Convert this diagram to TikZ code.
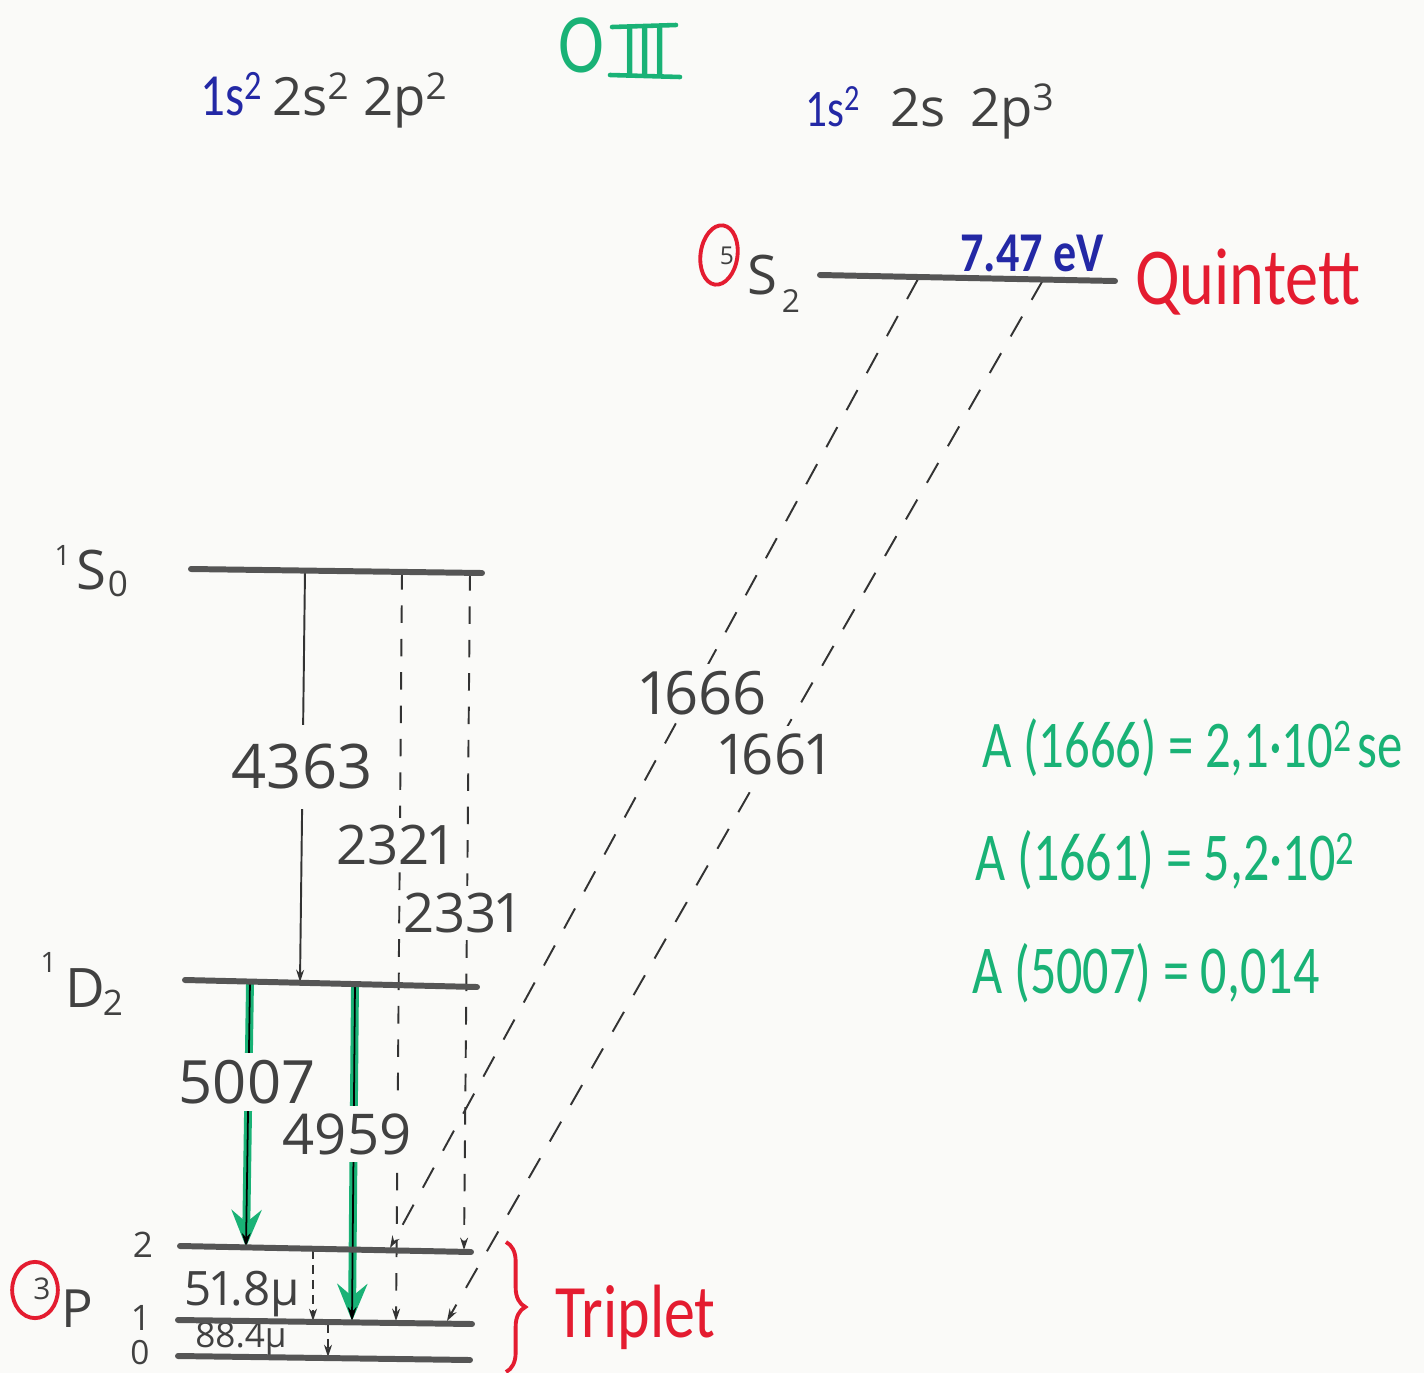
\documentclass[tikz,border=0pt]{standalone}
\usepackage{fontspec}
\setmainfont{Open Sans}[Numbers=Proportional]
\newfontfamily\hand{Carlito}[FakeStretch=0.82]
\newfontfamily\handn{Carlito}[FakeStretch=0.76]
\usetikzlibrary{arrows.meta,decorations.pathreplacing,shapes.geometric}
\definecolor{bg}{RGB}{250,250,248}
\definecolor{ink}{RGB}{65,65,65}
\definecolor{lvl}{RGB}{85,85,85}
\definecolor{hgreen}{RGB}{25,178,118}
\definecolor{hred}{RGB}{228,28,48}
\definecolor{hblue}{RGB}{35,40,165}
\newcommand\fsz[1]{\fontsize{#1pt}{#1pt}\selectfont}
\begin{document}
\begin{tikzpicture}[x=0.02cm,y=-0.02cm,
  level/.style={draw=lvl,line width=3.4pt,line cap=round},
  lab/.style={text=ink,inner sep=1pt},
  wl/.style={lab,fill=bg,inner xsep=1pt,inner ysep=4pt},
  dline/.style={draw=black!80,line width=1.1pt,dash pattern=on 10pt off 9pt},
  diag/.style={draw=black!80,line width=1.1pt,dash pattern=on 13pt off 11pt},
  sdash/.style={draw=black!80,line width=1.1pt,dash pattern=on 5pt off 3.5pt},
  dtip/.style={-{Stealth[length=7pt,width=4.5pt]}},
  gline/.style={draw=hgreen,line width=4.5pt,-{Stealth[length=21pt,width=17pt,inset=7pt]}},
  kline/.style={draw=black,line width=1pt,-{Stealth[length=8pt,width=5pt]}},
  redline/.style={draw=hred,line width=2.2pt},
  hg/.style={text=hgreen,inner sep=0pt,anchor=base west}
]
\fill[bg] (0,0) rectangle (1424,1373);
\useasboundingbox (0,0) rectangle (1424,1373);
\clip (0,0) rectangle (1424,1373);

% level end points
\coordinate (q1) at (820,275); \coordinate (q2) at (1115,281);
\coordinate (s1) at (191,569); \coordinate (s2) at (482,573);
\coordinate (d1) at (185,980); \coordinate (d2) at (477,987);
\coordinate (p21) at (180,1246); \coordinate (p22) at (471,1252);
\coordinate (p11) at (178,1320); \coordinate (p12) at (472,1324);
\coordinate (p01) at (178,1356); \coordinate (p02) at (470,1360);

% transition end points
\coordinate (a4363) at (305,571); \coordinate (b4363) at (300,982);
\coordinate (a2321) at (402,572); \coordinate (b2321) at (396,1321);
\coordinate (a2331) at (470,573); \coordinate (b2331) at (464,1250);
\coordinate (a1666) at (918,279); \coordinate (b1666) at (390,1248);
\coordinate (a1661) at (1043,280); \coordinate (b1661) at (447,1321);
\coordinate (a518) at (313,1250); \coordinate (b518) at (313,1321);
\coordinate (a884) at (328,1324); \coordinate (b884) at (328,1357);
\coordinate (a5007) at (250,982); \coordinate (b5007) at (246,1247);
\coordinate (a4959) at (355,984); \coordinate (b4959) at (352,1321);

% transitions
\draw[draw=black!80,line width=1.1pt,dtip] (a4363) -- (b4363);
\draw[dline,dtip] (a2321) -- (b2321);
\draw[dline,dtip] (a2331) -- (b2331);
\draw[diag,dtip] (a1666) -- (b1666);
\draw[diag,dtip] (a1661) -- (b1661);
\draw[sdash,dtip] (a518) -- (b518);
\draw[sdash,dtip] (a884) -- (b884);
\draw[gline] (a5007) -- (b5007);
\draw[kline] (a5007) -- (b5007);
\draw[gline] (a4959) -- (b4959);
\draw[kline] (a4959) -- (b4959);

% wavelength labels
\node[wl,inner ysep=11pt] (l4363) at (302,767) {\fsz{35}4363};
\node[wl] (l2321) at (394,845) {\fsz{31}2321};
\node[wl] (l2331) at (461,913) {\fsz{31}2331};
\node[wl] (l5007) at (247,1082) {\fsz{34}5007};
\node[wl] (l4959) at (347,1134) {\fsz{32}4959};
\node[wl] (l1666) at (704,693) {\fsz{34}1666};
\node[wl] (l1661) at (774,754) {\fsz{32}1661};
\node[lab] (l518) at (242,1294) {\fsz{27}51.8μ};
\node[lab] (l884) at (241,1339) {\fsz{20}88.4μ};

% levels
\draw[level] (q1) -- (q2);
\draw[level] (s1) -- (s2);
\draw[level] (d1) -- (d2);
\draw[level] (p21) -- (p22);
\draw[level] (p11) -- (p12);
\draw[level] (p01) -- (p02);

% term symbols
\node[lab] (s0one) at (62,555) {\fsz{16}1};
\node[lab] (s0S) at (91,570) {\fsz{31}S};
\node[lab] (s0zero) at (118,584) {\fsz{20}0};
\node[lab] (d2one) at (48,962) {\fsz{16}1};
\node[lab] (d2D) at (85,988) {\fsz{31}D};
\node[lab] (d2two) at (113,1003) {\fsz{20}2};
\node[lab] (q5) at (727,256) {\fsz{14}5};
\node[lab] (qS) at (762,275) {\fsz{31}S};
\node[lab] (qtwo) at (791,301) {\fsz{18}2};
\node[redline,ellipse,minimum width=21pt,minimum height=34pt,inner sep=0pt,rotate=-8] (c5) at (719,255) {};
\node[lab] (p3) at (42,1289) {\fsz{17}3};
\node[lab] (pP) at (77,1309) {\fsz{30}P};
\node[redline,ellipse,minimum width=26pt,minimum height=32pt,inner sep=0pt] (c3) at (35,1290) {};
\node[lab] (j2) at (143,1245) {\fsz{20}2};
\node[lab] (j1) at (140,1318) {\fsz{20}1};
\node[lab] (j0) at (140,1353) {\fsz{19}0};

% configurations
\node[anchor=base west,text=hblue,inner sep=0pt] (c1a) at (200,115) {\hand\fsz{34}1s\textsuperscript{2}};
\node[anchor=base west,text=ink,inner sep=0pt] (c1b) at (272,115) {\fsz{30}2s\textsuperscript{2} 2p\textsuperscript{2}};
\node[anchor=base west,text=hblue,inner sep=0pt] (c2a) at (805,126) {\hand\fsz{30}1s\textsuperscript{2}};
\node[anchor=base west,text=ink,inner sep=0pt] (c2b) at (890,126) {\fsz{30}2s\hspace{14pt}2p\textsuperscript{3}};

% title
\node[text=hgreen,inner sep=0pt] (tO) at (581,45) {\hand\fsz{48}O};
\node[text=hgreen,inner sep=0pt] (tIII) at (645,51) {\hand\fsz{42}III};
\coordinate (bt1) at (612,27); \coordinate (bt2) at (676,25);
\coordinate (bb1) at (610,75); \coordinate (bb2) at (680,77);
\draw[draw=hgreen,line width=2.6pt,line cap=round] (bt1) -- (bt2);
\draw[draw=hgreen,line width=2.6pt,line cap=round] (bb1) -- (bb2);

% multiplicity labels
\node[anchor=base west,text=hblue,inner sep=0pt] (ev) at (960,271) {\hand\bfseries\fsz{32}7.47 eV};
\node[anchor=base west,text=hred,inner sep=0pt] (quin) at (1135,304) {\hand\fsz{46}Quintett};
\node[anchor=base west,text=hred,inner sep=0pt] (trip) at (555,1337) {\hand\fsz{43}Triplet};
\coordinate (br1) at (506,1242); \coordinate (br2) at (506,1372);
\draw[redline,decorate,decoration={brace,amplitude=11pt}] (br1) -- (br2);

% transition probabilities
\node[hg] (A1) at (982,767) {\handn\fsz{38}A (1666) = 2,1·10\textsuperscript{2}\hspace{3pt}se};
\node[hg] (A2) at (975,880) {\handn\fsz{39}A (1661) = 5,2·10\textsuperscript{2}};
\node[hg] (A3) at (972,993) {\handn\fsz{39}A (5007) = 0,014};
\end{tikzpicture}
\end{document}
